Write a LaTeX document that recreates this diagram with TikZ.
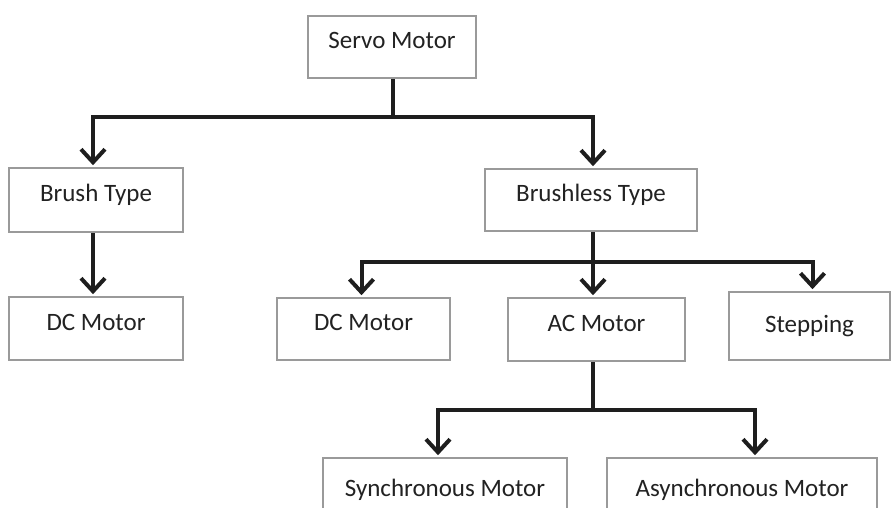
\documentclass[tikz,border=0pt]{standalone}
\usepackage{fontspec}
\setmainfont{Carlito}
\usetikzlibrary{arrows.meta,calc}
\definecolor{boxgray}{HTML}{9A9A9A}
\definecolor{linek}{HTML}{1E1E1E}
\definecolor{textgray}{HTML}{222222}
\begin{document}
\begin{tikzpicture}[x=1pt,y=-1pt,
  box/.style={draw=boxgray,line width=2.8pt,fill=white,inner sep=0pt,
    text height=15pt,text depth=12pt,font=\fontsize{25}{29}\selectfont,text=textgray},
  conn/.style={draw=linek,line width=4pt},
  arr/.style={conn,-{Straight Barb[length=13pt,width=24pt]}}]
\path[use as bounding box] (0,0) rectangle (891,507);
\clip (0,0) rectangle (891,507);
\fill[white] (0,0) rectangle (891,507);

\node[box,minimum width=168pt,minimum height=62pt] (servo) at (392,47) {Servo Motor};
\node[box,minimum width=174pt,minimum height=64pt] (brush) at (96,200) {Brush Type};
\node[box,minimum width=174pt,minimum height=63pt] (dc1) at (96,328.5) {DC Motor};
\node[box,minimum width=212pt,minimum height=62pt] (brushless) at (591,200) {Brushless Type};
\node[box,minimum width=173pt,minimum height=62pt] (dc2) at (363.5,329) {DC Motor};
\node[box,minimum width=177pt,minimum height=63pt] (ac) at (596.5,329.5) {AC Motor};
\node[box,minimum width=161pt,minimum height=68pt,text height=20pt,text depth=7pt] (stepping) at (809.5,326) {Stepping};
\node[box,minimum width=244pt,minimum height=74pt] (sync) at (445,495) {Synchronous Motor};
\node[box,minimum width=270pt,minimum height=74pt] (async) at (742,495) {Asynchronous Motor};

\draw[conn] ([xshift=1pt]servo.south) -- ++(0,38) coordinate (j1);
\draw[arr] (j1) -| ([xshift=-3pt,yshift=1.4pt]brush.north);
\draw[arr] (j1) -| ([xshift=2pt,yshift=1.4pt]brushless.north);
\draw[arr] ([xshift=-3pt]brush.south) -- ([xshift=-3pt,yshift=1.4pt]dc1.north);

\draw[conn] ([xshift=2pt]brushless.south) -- ++(0,30) coordinate (j2);
\draw[arr] (j2) -| ([xshift=-2pt,yshift=1.4pt]dc2.north);
\draw[arr] (j2) -- ([yshift=1.4pt]j2 |- ac.north);
\draw[arr] (j2) -| ([xshift=3pt,yshift=1.4pt]stepping.north);

\draw[conn] ([xshift=-4pt]ac.south) -- ++(0,48) coordinate (j3);
\draw[arr] (j3) -| ([xshift=-7pt,yshift=1.4pt]sync.north);
\draw[arr] (j3) -| ([xshift=13pt,yshift=1.4pt]async.north);
\end{tikzpicture}
\end{document}
